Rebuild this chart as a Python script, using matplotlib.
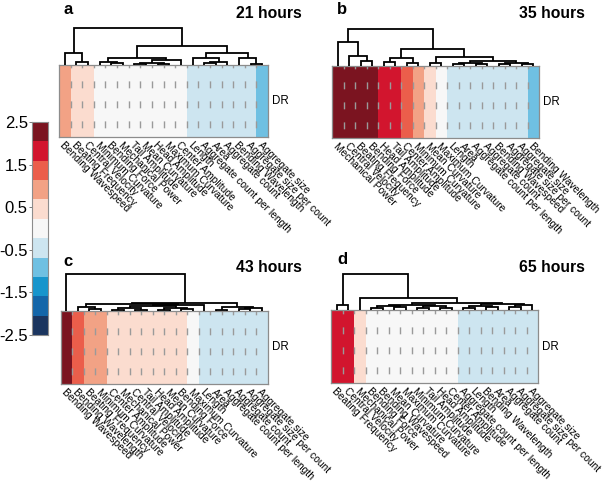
import matplotlib
matplotlib.use("Agg")
import matplotlib.pyplot as plt
import numpy as np
from matplotlib.colors import ListedColormap, BoundaryNorm

plt.rcParams['font.family'] = ['Liberation Sans', 'DejaVu Sans']
plt.rcParams['lines.scale_dashes'] = False

# ---------------- data ----------------
titles = ["21 hours", "35 hours", "43 hours", "65 hours"]
letters = ["a", "b", "c", "d"]

labels_a = ["Bending Wavespeed", "Beating Frequency", "Central Velocity", "Minimum Curvature",
            "Bending Force", "Mechanical Power", "Tail Amplitude", "Mean Curvature",
            "Head Amplitude", "Maximum Curvature", "Center Amplitude", "Length",
            "Aggregate count per length", "Area", "Aggregate count", "Bending Wavelength",
            "Aggregate size per count", "Aggregate size"]
values_a = [0.9, 0.45, 0.45, 0.1, 0.05, 0.0, -0.02, 0.0, -0.05, -0.1, -0.15,
            -0.45, -0.5, -0.5, -0.55, -0.6, -0.6, -0.95]

labels_b = ["Mechanical Power", "Central Velocity", "Beating Frequency", "Bending Force",
            "Head Amplitude", "Tail Amplitude", "Center Amplitude", "Minimum Curvature",
            "Mean Curvature", "Maximum Curvature", "Length", "Area",
            "Aggregate count per length", "Aggregate count", "Bending Wavespeed",
            "Aggregate size per count", "Aggregate size", "Bending Wavelength"]
values_b = [2.4, 2.3, 2.2, 2.1, 1.9, 1.7, 1.4, 0.9, 0.4, 0.1, -0.3, -0.35, -0.4,
            -0.45, -0.5, -0.55, -0.6, -1.0]

labels_c = ["Bending Wavespeed", "Bending Wavelength", "Beating Frequency", "Minimum Curvature",
            "Center Amplitude", "Mechanical Power", "Central Velocity", "Tail Amplitude",
            "Head Amplitude", "Mean Curvature", "Bending Force", "Maximum Curvature",
            "Length", "Area", "Aggregate count per length", "Aggregate count",
            "Aggregate size per count", "Aggregate size"]
values_c = [2.3, 1.3, 0.9, 0.8, 0.6, 0.55, 0.5, 0.45, 0.45, 0.4, 0.35, 0.15,
            -0.3, -0.35, -0.4, -0.45, -0.5, -0.55]

labels_d = ["Beating Frequency", "Central Velocity", "Mechanical Power", "Bending Force",
            "Bending Wavespeed", "Mean Curvature", "Maximum Curvature", "Minimum Curvature",
            "Tail Amplitude", "Head Amplitude", "Center Amplitude", "Aggregate count per length",
            "Length", "Bending Wavelength", "Area", "Aggregate count",
            "Aggregate size per count", "Aggregate size"]
values_d = [1.9, 1.7, 0.5, 0.15, 0.1, 0.05, 0.0, -0.05, -0.05, -0.1, -0.15, -0.3,
            -0.35, -0.4, -0.45, -0.5, -0.55, -0.6]

# dendrogram merges: (child_a, child_b, height); leaves 0..17, merge k -> 18+k
merges_a = [(1, 2, 0.07), (0, 18, 0.33), (4, 5, 0.05), (3, 20, 0.09), (6, 7, 0.02),
            (8, 9, 0.04), (22, 23, 0.06), (24, 10, 0.14), (21, 25, 0.18), (12, 13, 0.05),
            (27, 14, 0.09), (11, 28, 0.18), (16, 17, 0.03), (15, 30, 0.18), (29, 31, 0.33),
            (26, 32, 0.51), (19, 33, 1.0)]
merges_b = [(2, 3, 0.11), (1, 18, 0.245), (0, 19, 0.64), (4, 5, 0.09), (6, 7, 0.07),
            (21, 22, 0.2), (8, 9, 0.07), (10, 11, 0.04), (12, 13, 0.05), (25, 26, 0.08),
            (14, 15, 0.04), (16, 17, 0.04), (28, 29, 0.06), (27, 30, 0.11), (24, 31, 0.23),
            (23, 32, 0.45), (20, 33, 1.0)]
merges_c = [(2, 3, 0.05), (1, 18, 0.12), (4, 5, 0.03), (6, 7, 0.04), (8, 9, 0.03),
            (10, 11, 0.05), (20, 21, 0.07), (22, 23, 0.09), (24, 25, 0.13), (26, 12, 0.16),
            (19, 27, 0.18), (13, 14, 0.04), (15, 16, 0.05), (30, 17, 0.08), (29, 31, 0.12),
            (28, 32, 0.21), (0, 33, 1.0)]
merges_d = [(0, 1, 0.14), (3, 4, 0.05), (5, 6, 0.08), (7, 8, 0.06), (9, 10, 0.05),
            (19, 20, 0.12), (21, 22, 0.10), (23, 24, 0.15), (11, 12, 0.06), (13, 14, 0.08),
            (15, 16, 0.09), (26, 27, 0.12), (28, 17, 0.14), (29, 30, 0.17), (25, 31, 0.19),
            (2, 32, 0.32), (18, 33, 1.0)]

cbar_ticks = [2.5, 1.5, 0.5, -0.5, -1.5, -2.5]
colors11 = ['#1b355f', '#1466a9', '#1795cc', '#6fc0e2', '#cde5f0', '#f7f7f7',
            '#fbdccf', '#f2a285', '#eb5e4b', '#d2152e', '#7b1420']

# ---------------- style / layout ----------------
W, H = 608, 482
fig = plt.figure(figsize=(W / 100, H / 100), dpi=100)
bounds = np.linspace(-2.5, 2.5, len(colors11) + 1)
cmap = ListedColormap(colors11)
norm = BoundaryNorm(bounds, cmap.N)


def fax(x0, y0, x1, y1):
    return fig.add_axes([x0 / W, 1 - y1 / H, (x1 - x0) / W, (y1 - y0) / H])


def draw_dendro(ax, merges, n):
    pos = {i: i + 0.5 for i in range(n)}
    hgt = {i: 0.0 for i in range(n)}
    for k, (a, b, h) in enumerate(merges):
        xa, xb = pos[a], pos[b]
        ax.plot([xa, xa, xb, xb], [hgt[a], h, h, hgt[b]], color='black', lw=1.3,
                solid_joinstyle='miter', solid_capstyle='butt', clip_on=False)
        pos[n + k] = (xa + xb) / 2
        hgt[n + k] = h
    ax.set_xlim(0, n)
    ax.set_ylim(0, 1)
    ax.axis('off')


panels = [
    (labels_a, values_a, merges_a, (59, 65, 268, 137), 28),
    (labels_b, values_b, merges_b, (332, 65.5, 539, 138), 28.5),
    (labels_c, values_c, merges_c, (60.5, 311, 267.5, 384), 274),
    (labels_d, values_d, merges_d, (331, 310, 538, 383), 274),
]
title_pos = [(302, 13), (585, 13), (302, 268), (585, 268)]
letter_pos = [(63, 10), (337, 10), (63, 261), (337, 260)]

for i, (labs, vals, merges, (x0, y0, x1, y1), ytop) in enumerate(panels):
    n = len(labs)
    ax = fax(x0, y0, x1, y1)
    ax.pcolormesh(np.arange(n + 1), [0, 1], np.array(vals)[None, :], cmap=cmap, norm=norm)
    ax.vlines(np.arange(1, n), 0, 1, colors='#9a9a9a', lw=1.0,
              linestyles=[(7.8, (5.0, 9.4))])
    ax.set_xlim(0, n)
    ax.set_ylim(0, 1)
    ax.set_xticks([])
    ax.set_yticks([])
    for sp in ax.spines.values():
        sp.set_color('#8c8c8c')
        sp.set_linewidth(0.9)
    for j, lab in enumerate(labs):
        ax.text(j + 0.55, -0.04, lab, rotation=-45, rotation_mode='anchor',
                ha='left', va='top', fontsize=7.35, transform=ax.transData, clip_on=False)
    ax.text(1.02, 0.5, "DR", transform=ax.transAxes, ha='left', va='center', fontsize=8.3)

    dax = fax(x0, ytop, x1, y0)
    draw_dendro(dax, merges, n)

    tx, ty = title_pos[i]
    fig.text(tx / W, 1 - ty / H, titles[i], ha='right', va='center',
             fontsize=11.3, fontweight='bold')
    lx, ly = letter_pos[i]
    fig.text(lx / W, 1 - ly / H, letters[i], ha='left', va='center',
             fontsize=12, fontweight='bold')

# colorbar
cax = fax(32, 122, 48, 335)
cax.pcolormesh([0, 1], bounds, np.array([(bounds[:-1] + bounds[1:]) / 2]).T,
               cmap=cmap, norm=norm)
cax.set_xlim(0, 1)
cax.set_ylim(-2.5, 2.5)
cax.set_xticks([])
cax.set_yticks(cbar_ticks)
cax.set_yticklabels([f"{t:g}" for t in cbar_ticks], fontsize=12)
cax.tick_params(axis='y', length=2, width=0.6, pad=1, color='#666666')
for sp in cax.spines.values():
    sp.set_color('#8c8c8c')
    sp.set_linewidth(0.8)

fig.savefig("out.png", dpi=100)
